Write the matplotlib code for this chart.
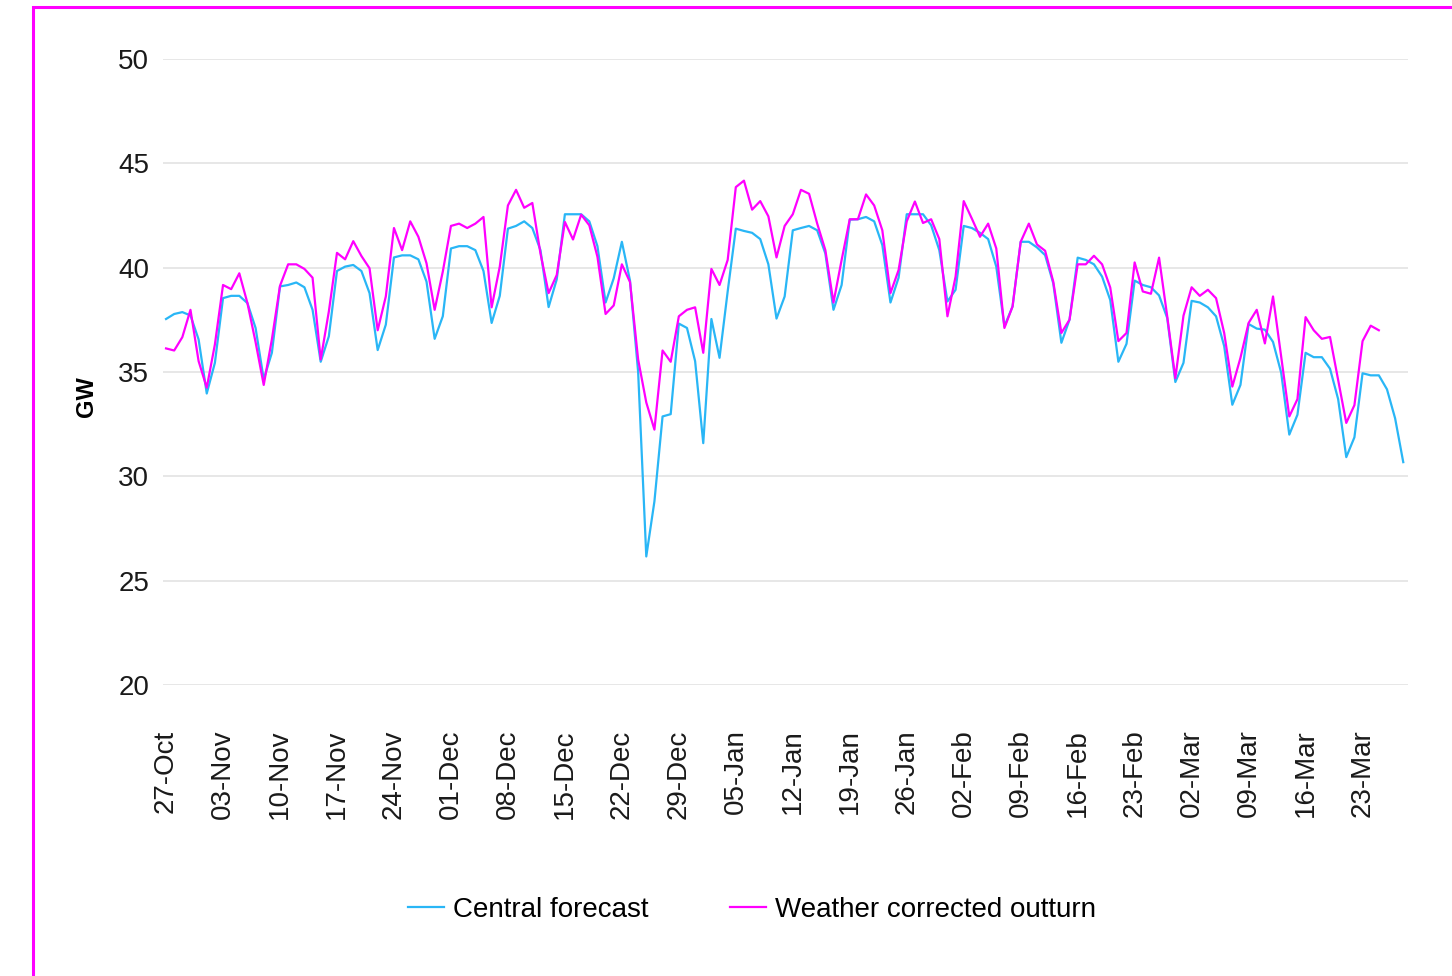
import matplotlib
matplotlib.use("Agg")
import matplotlib.pyplot as plt
from matplotlib.patches import Rectangle
import numpy as np
import pandas as pd

plt.rcParams['font.family'] = ['Liberation Sans', 'DejaVu Sans']

# daily demand, GW, starting 27-Oct
central_forecast = [
    37.54, 37.78, 37.87, 37.71, 36.56, 33.97, 35.44,
    38.54, 38.65, 38.65, 38.30, 37.11, 34.65, 35.92,
    39.10, 39.17, 39.29, 39.06, 37.98, 35.49, 36.71,
    39.84, 40.05, 40.13, 39.84, 38.78, 36.05, 37.27,
    40.49, 40.59, 40.59, 40.40, 39.33, 36.59, 37.67,
    40.92, 41.03, 41.03, 40.84, 39.84, 37.35, 38.65,
    41.87, 42.00, 42.22, 41.90, 40.84, 38.11, 39.44,
    42.56, 42.56, 42.56, 42.22, 41.03, 38.33, 39.49,
    41.24, 39.38, 35.00, 26.16, 28.80, 32.87, 32.98,
    37.32, 37.11, 35.52, 31.59, 37.54, 35.68, 38.86,
    41.87, 41.76, 41.67, 41.37, 40.16, 37.56, 38.62,
    41.79, 41.90, 42.00, 41.79, 40.68, 37.98, 39.17,
    42.30, 42.32, 42.43, 42.22, 41.08, 38.33, 39.52,
    42.56, 42.56, 42.56, 42.03, 40.84, 38.38, 38.94,
    42.00, 41.90, 41.67, 41.37, 40.05, 37.19, 38.14,
    41.24, 41.24, 40.97, 40.60, 39.25, 36.40, 37.51,
    40.48, 40.37, 40.16, 39.57, 38.45, 35.49, 36.35,
    39.38, 39.17, 39.06, 38.67, 37.59, 34.52, 35.44,
    38.41, 38.33, 38.10, 37.67, 36.24, 33.43, 34.38,
    37.30, 37.08, 37.03, 36.44, 34.97, 32.00, 32.95,
    35.92, 35.71, 35.71, 35.16, 33.70, 30.92, 31.87,
    34.94, 34.84, 34.84, 34.17, 32.78, 30.68,
]

weather_corrected = [
    36.13, 36.03, 36.67, 37.98, 35.52, 34.25, 36.32,
    39.17, 38.97, 39.73, 38.30, 36.43, 34.38, 36.56,
    39.13, 40.16, 40.16, 39.94, 39.52, 35.60, 37.90,
    40.71, 40.40, 41.27, 40.56, 39.97, 37.00, 38.62,
    41.90, 40.84, 42.22, 41.48, 40.21, 37.98, 39.81,
    42.00, 42.11, 41.90, 42.11, 42.43, 38.10, 40.05,
    42.98, 43.73, 42.87, 43.10, 40.68, 38.78, 39.65,
    42.19, 41.35, 42.54, 42.03, 40.52, 37.78, 38.19,
    40.16, 39.31, 35.60, 33.54, 32.24, 36.03, 35.49,
    37.67, 37.98, 38.10, 35.92, 39.94, 39.17, 40.37,
    43.86, 44.17, 42.78, 43.19, 42.46, 40.49, 42.00,
    42.56, 43.73, 43.54, 42.11, 40.84, 38.33, 40.37,
    42.32, 42.32, 43.51, 42.98, 41.79, 38.78, 39.89,
    42.22, 43.17, 42.14, 42.32, 41.37, 37.67, 39.57,
    43.19, 42.35, 41.48, 42.11, 40.92, 37.11, 38.14,
    41.24, 42.11, 41.11, 40.81, 39.33, 36.87, 37.51,
    40.16, 40.16, 40.57, 40.16, 39.05, 36.48, 36.87,
    40.25, 38.86, 38.75, 40.48, 37.67, 34.70, 37.70,
    39.06, 38.65, 38.94, 38.54, 36.87, 34.30, 35.68,
    37.35, 37.98, 36.37, 38.62, 35.76, 32.87, 33.70,
    37.63, 37.00, 36.59, 36.68, 34.62, 32.56, 33.41,
    36.48, 37.22, 37.00,
]

tick_labels = ['27-Oct', '03-Nov', '10-Nov', '17-Nov', '24-Nov', '01-Dec',
               '08-Dec', '15-Dec', '22-Dec', '29-Dec', '05-Jan', '12-Jan',
               '19-Jan', '26-Jan', '02-Feb', '09-Feb', '16-Feb', '23-Feb',
               '02-Mar', '09-Mar', '16-Mar', '23-Mar']

dates_cf = pd.date_range('2019-10-27', periods=len(central_forecast), freq='D')
dates_wc = pd.date_range('2019-10-27', periods=len(weather_corrected), freq='D')
tick_dates = pd.date_range('2019-10-27', periods=len(tick_labels), freq='7D')

fig = plt.figure(figsize=(14.52, 9.76), dpi=100)
ax = fig.add_axes([163 / 1452, 1 - 685 / 976, 1245 / 1452, 626 / 976])

ax.plot(dates_cf, central_forecast, color='#29b6f6', lw=1.6, label='Central forecast')
ax.plot(dates_wc, weather_corrected, color='#ff00ff', lw=1.6, label='Weather corrected outturn')

ax.set_ylim(20, 50)
ax.set_yticks(np.arange(20, 51, 5))
ax.set_xlim(dates_cf[0] - pd.Timedelta(hours=9), dates_cf[-1] + pd.Timedelta(hours=14))
ax.set_xticks(tick_dates)
ax.set_xticklabels(tick_labels, rotation=90)

ax.grid(axis='y', color='#e3e3e3', lw=1.2)
ax.set_axisbelow(True)
for s in ax.spines.values():
    s.set_visible(False)
ax.tick_params(axis='both', length=0, labelsize=20, colors='#1a1a1a')
ax.tick_params(axis='y', pad=10)
ax.tick_params(axis='x', pad=32)

ax.set_ylabel('GW', fontsize=17, fontweight='bold')
ax.yaxis.set_label_coords(-0.052, 0.46)

fig.legend(loc='center', bbox_to_anchor=(752 / 1452, 1 - 910 / 976), ncol=2,
           frameon=False, fontsize=20, handlelength=1.3, handletextpad=0.35,
           columnspacing=2.9)

# magenta frame round the chart
fig.patches.append(Rectangle((32.5 / 1452, -0.1), 2, 1.1 - 7.5 / 976,
                             transform=fig.transFigure, fill=False,
                             edgecolor='#ff00ff', lw=2.2))

plt.savefig('out.png', dpi=100)
